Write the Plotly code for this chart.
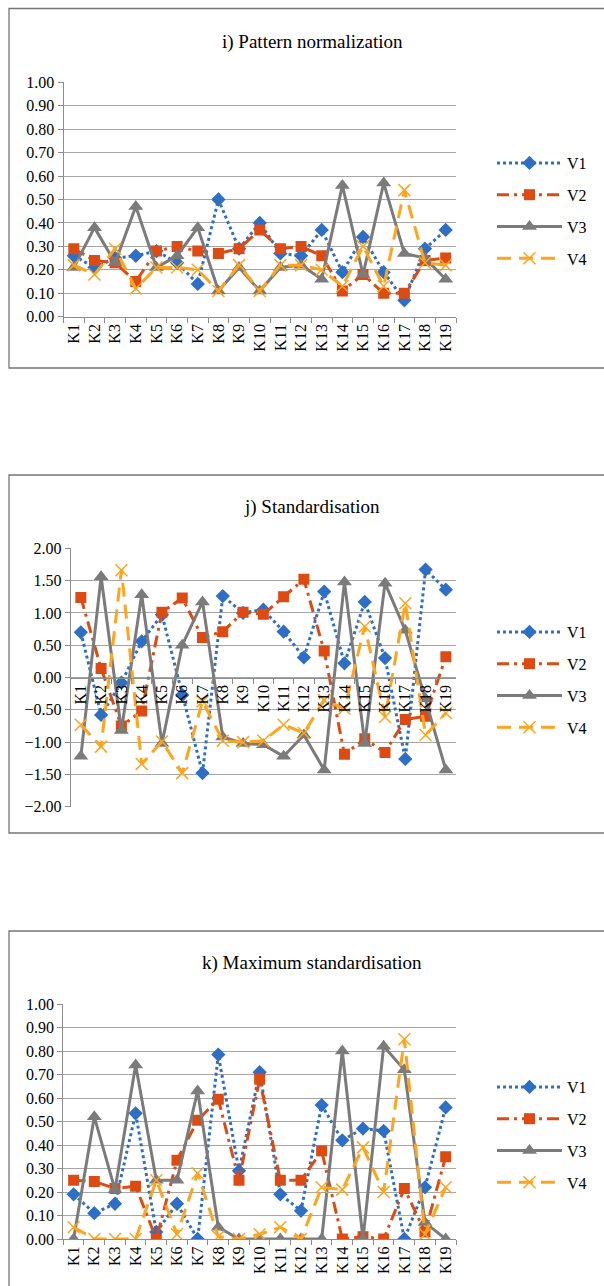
import plotly.graph_objects as go

# Categories shared by all three panels
categories = ["K1", "K2", "K3", "K4", "K5", "K6", "K7", "K8", "K9", "K10",
              "K11", "K12", "K13", "K14", "K15", "K16", "K17", "K18", "K19"]

# i) Pattern normalization
v1_pattern = [0.26, 0.21, 0.25, 0.26, 0.28, 0.23, 0.14, 0.50, 0.29, 0.40,
              0.27, 0.26, 0.37, 0.19, 0.34, 0.19, 0.07, 0.29, 0.37]
v2_pattern = [0.29, 0.24, 0.23, 0.15, 0.28, 0.30, 0.28, 0.27, 0.29, 0.37,
              0.29, 0.30, 0.26, 0.11, 0.18, 0.10, 0.10, 0.24, 0.25]
v3_pattern = [0.21, 0.38, 0.23, 0.47, 0.21, 0.26, 0.38, 0.11, 0.21, 0.11,
              0.21, 0.22, 0.16, 0.56, 0.18, 0.57, 0.27, 0.25, 0.16]
v4_pattern = [0.22, 0.18, 0.29, 0.12, 0.21, 0.21, 0.20, 0.11, 0.22, 0.11,
              0.22, 0.22, 0.20, 0.13, 0.30, 0.13, 0.54, 0.23, 0.22]

# j) Standardisation
v1_std = [0.70, -0.58, -0.08, 0.56, 0.97, -0.27, -1.48, 1.26, 1.00, 1.05,
          0.71, 0.31, 1.33, 0.22, 1.17, 0.30, -1.26, 1.67, 1.36]
v2_std = [1.24, 0.14, -0.75, -0.52, 1.01, 1.23, 0.62, 0.71, 1.01, 0.98,
          1.25, 1.52, 0.41, -1.19, -0.95, -1.16, -0.65, -0.60, 0.32]
v3_std = [-1.22, 1.56, -0.82, 1.28, -1.02, 0.50, 1.17, -0.92, -1.02, -1.04,
          -1.22, -0.89, -1.43, 1.48, -1.02, 1.46, 0.73, -0.33, -1.43]
v4_std = [-0.73, -1.07, 1.66, -1.34, -0.99, -1.48, -0.37, -0.98, -1.00, -0.98,
          -0.73, -0.86, -0.35, -0.48, 0.79, -0.61, 1.15, -0.89, -0.55]

# k) Maximum standardisation
v1_max = [0.19, 0.11, 0.15, 0.535, 0.03, 0.15, 0.00, 0.785, 0.29, 0.71,
          0.19, 0.12, 0.57, 0.42, 0.47, 0.46, 0.00, 0.22, 0.56]
v2_max = [0.25, 0.245, 0.215, 0.225, 0.00, 0.335, 0.505, 0.595, 0.25, 0.68,
          0.25, 0.25, 0.375, 0.00, 0.01, 0.00, 0.215, 0.03, 0.35]
v3_max = [0.00, 0.52, 0.21, 0.74, 0.25, 0.25, 0.63, 0.05, 0.00, 0.00,
          0.00, 0.00, 0.00, 0.80, 0.00, 0.82, 0.72, 0.07, 0.00]
v4_max = [0.05, 0.00, 0.00, 0.00, 0.25, 0.02, 0.28, 0.01, 0.00, 0.02,
          0.05, 0.00, 0.22, 0.21, 0.39, 0.20, 0.85, 0.02, 0.22]

series_names = ["V1", "V2", "V3", "V4"]
panel_titles = ["i) Pattern normalization", "j) Standardisation", "k) Maximum standardisation"]

W, H = 604, 1286
FONT = "'Liberation Serif', 'Times New Roman', Times, serif"
BLUE, RED, GRAY, ORANGE = "#2D6FC4", "#DD4B12", "#7B7B7B", "#FFA41C"

styles = [
    dict(line=dict(color=BLUE, width=3, dash="3px,3px"),
         marker=dict(symbol="diamond", size=11, color=BLUE)),
    dict(line=dict(color=RED, width=3, dash="12px,5px,3px,5px"),
         marker=dict(symbol="square", size=11, color=RED)),
    dict(line=dict(color=GRAY, width=3),
         marker=dict(symbol="triangle-up", size=13, color=GRAY)),
    dict(line=dict(color=ORANGE, width=3, dash="14px,8px"),
         marker=dict(symbol="x-thin", size=12, color=ORANGE,
                     line=dict(color=ORANGE, width=1.5))),
]

def px_x(x):
    return x / W

def px_y(y):
    return 1 - y / H

panels = [
    dict(data=[v1_pattern, v2_pattern, v3_pattern, v4_pattern],
         xdom=[px_x(63.5), px_x(456)], top=82.3, bottom=316.7,
         yrange=[0, 1], dtick=0.1, frame=(8.5, 368), title_y=42, legend_y=211),
    dict(data=[v1_std, v2_std, v3_std, v4_std],
         xdom=[px_x(70.7), px_x(456)], top=548.3, bottom=806.7,
         yrange=[-2, 2], dtick=0.5, frame=(475, 833), title_y=507, legend_y=680),
    dict(data=[v1_max, v2_max, v3_max, v4_max],
         xdom=[px_x(63.3), px_x(456)], top=1004, bottom=1239,
         yrange=[0, 1], dtick=0.1, frame=(931, 1300), title_y=963, legend_y=1135),
]

fig = go.Figure()
shapes, annotations = [], []
layout = dict(width=W, height=H, margin=dict(l=0, r=0, t=0, b=0),
              paper_bgcolor="white", plot_bgcolor="white",
              font=dict(family=FONT, size=16, color="black"))

for p_idx, panel in enumerate(panels):
    n = p_idx + 1
    xa = "x" if n == 1 else f"x{n}"
    ya = "y" if n == 1 else f"y{n}"
    leg = "legend" if n == 1 else f"legend{n}"
    for s_idx, values in enumerate(panel["data"]):
        fig.add_trace(go.Scatter(
            x=categories, y=values, name=series_names[s_idx], mode="lines+markers",
            xaxis=xa, yaxis=ya, legend=leg, legendgroup=f"{n}-{s_idx}",
            line=styles[s_idx]["line"], marker=styles[s_idx]["marker"],
            hoverinfo="skip"))

    ydom = [px_y(panel["bottom"]), px_y(panel["top"])]
    xkey = "xaxis" if n == 1 else f"xaxis{n}"
    ykey = "yaxis" if n == 1 else f"yaxis{n}"
    xaxis = dict(domain=panel["xdom"], type="category", range=[-0.5, 18.5],
                 showgrid=False, showline=True, linecolor="#8C8C8C", linewidth=1,
                 ticks="outside", ticklen=5, tickcolor="#8C8C8C", tickson="boundaries",
                 tickangle=-90, tickfont=dict(family=FONT, size=16, color="black"),
                 automargin=False, fixedrange=True, zeroline=False)
    if panel["yrange"][0] < 0:
        xaxis.update(anchor="free", position=(ydom[0] + ydom[1]) / 2)
    else:
        xaxis.update(anchor=ya)
    yaxis = dict(domain=ydom, range=panel["yrange"], dtick=panel["dtick"], tick0=0,
                 tickformat=".2f", showgrid=True, gridcolor="#A6A6A6", gridwidth=1,
                 showline=True, linecolor="#8C8C8C", linewidth=1, ticks="outside",
                 ticklen=5, tickcolor="#8C8C8C", zeroline=False, anchor=xa,
                 tickfont=dict(family=FONT, size=16, color="black"),
                 automargin=False, fixedrange=True)
    layout[xkey] = xaxis
    layout[ykey] = yaxis

    layout[leg] = dict(x=px_x(492), xanchor="left", y=px_y(panel["legend_y"]),
                       yanchor="middle", bgcolor="rgba(0,0,0,0)", borderwidth=0,
                       font=dict(family=FONT, size=16, color="black"),
                       tracegroupgap=8, itemwidth=65)

    f_top, f_bot = panel["frame"]
    shapes.append(dict(type="rect", xref="paper", yref="paper",
                       x0=px_x(9), x1=1.02, y0=px_y(f_bot), y1=px_y(f_top),
                       line=dict(color="#767676", width=1.3), fillcolor="rgba(0,0,0,0)",
                       layer="below"))
    annotations.append(dict(text=panel_titles[p_idx], xref="paper", yref="paper",
                            x=px_x(312), y=px_y(panel["title_y"]), xanchor="center",
                            yanchor="middle", showarrow=False,
                            font=dict(family=FONT, size=19, color="black")))

layout["shapes"] = shapes
layout["annotations"] = annotations
fig.update_layout(**layout)

fig.write_html("out.html")
